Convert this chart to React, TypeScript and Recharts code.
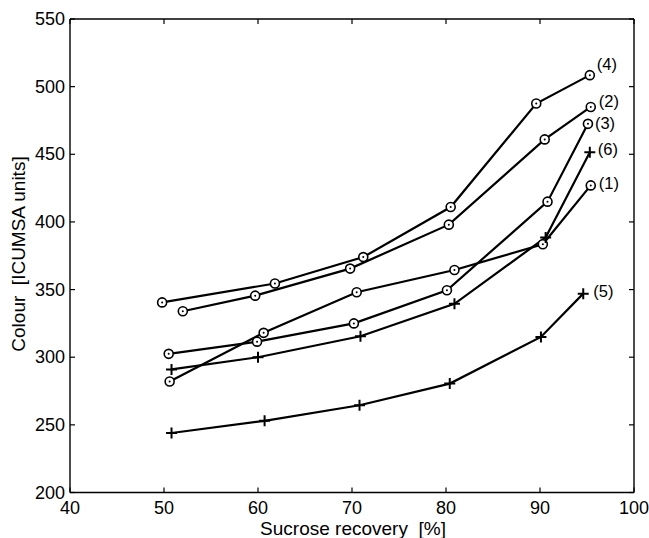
import { LabelList, Line, LineChart, XAxis, YAxis } from "recharts";

const X_TICKS = [40, 50, 60, 70, 80, 90, 100];
const Y_TICKS = [200, 250, 300, 350, 400, 450, 500, 550];

// sucrose recovery [%] / colour [ICUMSA units], one pair per curve
const S1_X = [50.6, 60.6, 70.5, 80.9, 90.3, 95.4];
const S1_Y = [282, 318, 348, 364.5, 383.5, 427];
const S2_X = [52.0, 59.7, 69.8, 80.3, 90.5, 95.4];
const S2_Y = [334, 345.5, 365.5, 398, 461, 485];
const S3_X = [50.5, 59.9, 70.2, 80.1, 90.8, 95.1];
const S3_Y = [302.5, 311.5, 325, 349.5, 415, 472.5];
const S4_X = [49.8, 61.8, 71.2, 80.5, 89.6, 95.3];
const S4_Y = [340.5, 354.5, 374, 411, 487.5, 508.5];
const S5_X = [50.8, 60.7, 70.8, 80.4, 90.1, 94.6];
const S5_Y = [244, 253, 264.5, 280.5, 315, 347];
const S6_X = [50.8, 60.0, 70.9, 80.9, 90.6, 95.3];
const S6_Y = [291, 300, 315.5, 339.5, 388.5, 451.5];

const TAGS = ["(1)", "(2)", "(3)", "(4)", "(5)", "(6)"];
const MARKERS = ["o", "o", "o", "o", "+", "+"];

// where each end tag sits relative to its last point
const TAG_OFFSET = [
  { dx: 8, dy: -2 },
  { dx: 8, dy: -6 },
  { dx: 7, dy: -1 },
  { dx: 7, dy: -11 },
  { dx: 10, dy: -3 },
  { dx: 8, dy: -3 },
];

const FONT = "'Liberation Sans', Arial, Helvetica, sans-serif";
const TICK_LEN = 5;

function makeSeries(xs: number[], ys: number[], tag: string) {
  return xs.map((x, i) => ({ x, y: ys[i], tag: i === xs.length - 1 ? tag : "" }));
}

const SERIES = [
  makeSeries(S1_X, S1_Y, TAGS[0]),
  makeSeries(S2_X, S2_Y, TAGS[1]),
  makeSeries(S3_X, S3_Y, TAGS[2]),
  makeSeries(S4_X, S4_Y, TAGS[3]),
  makeSeries(S5_X, S5_Y, TAGS[4]),
  makeSeries(S6_X, S6_Y, TAGS[5]),
];

function CircleMark(p: any) {
  const { cx, cy, index } = p;
  if (cx == null || cy == null) return <g key={index} />;
  return (
    <g key={`c${index}`}>
      <circle cx={cx} cy={cy} r={4.5} fill="#fff" stroke="#000" strokeWidth={1.6} />
      <circle cx={cx} cy={cy} r={1} fill="#000" />
    </g>
  );
}

function PlusMark(p: any) {
  const { cx, cy, index } = p;
  if (cx == null || cy == null) return <g key={index} />;
  return (
    <g key={`p${index}`} stroke="#000" strokeWidth={2}>
      <line x1={cx - 5.5} y1={cy} x2={cx + 5.5} y2={cy} />
      <line x1={cx} y1={cy - 5.5} x2={cx} y2={cy + 5.5} />
    </g>
  );
}

// tick renderers: labels outside, short tick marks inside the box
function BottomTick(p: any) {
  const { x, y, payload } = p;
  return (
    <g>
      <line x1={x} y1={y} x2={x} y2={y - TICK_LEN} stroke="#000" strokeWidth={1.2} />
      <text x={x} y={y + 9} dy="0.71em" textAnchor="middle" fontSize={18} fontFamily={FONT} fill="#000">
        {payload.value}
      </text>
    </g>
  );
}

function LeftTick(p: any) {
  const { x, y, payload } = p;
  return (
    <g>
      <line x1={x} y1={y} x2={x + TICK_LEN} y2={y} stroke="#000" strokeWidth={1.2} />
      <text x={x - 5} y={y} dominantBaseline="central" textAnchor="end" fontSize={18} fontFamily={FONT} fill="#000">
        {payload.value}
      </text>
    </g>
  );
}

function TopTick(p: any) {
  const { x, y } = p;
  return <line x1={x} y1={y} x2={x} y2={y + TICK_LEN} stroke="#000" strokeWidth={1.2} />;
}

function RightTick(p: any) {
  const { x, y } = p;
  return <line x1={x} y1={y} x2={x - TICK_LEN} y2={y} stroke="#000" strokeWidth={1.2} />;
}

function endTag(off: { dx: number; dy: number }) {
  return (props: any) => {
    const { x, y, value } = props;
    if (!value) return null;
    return (
      <text
        x={x + off.dx}
        y={y + off.dy}
        dominantBaseline="central"
        fontSize={16.5}
        fontFamily={FONT}
        fill="#000"
      >
        {value}
      </text>
    );
  };
}

export default function App() {
  const axisStroke = { stroke: "#000", strokeWidth: 1.4 };
  return (
    <div
      style={{
        position: "absolute",
        left: 0,
        top: 0,
        width: 649,
        height: 538,
        background: "#fff",
        fontFamily: FONT,
      }}
    >
      <LineChart width={649} height={538} margin={{ top: 18, right: 14, bottom: 0, left: 0 }}>
        <XAxis
          xAxisId="b"
          type="number"
          dataKey="x"
          domain={[40, 100]}
          ticks={X_TICKS}
          allowDataOverflow
          height={45.5}
          tickSize={0}
          tickMargin={0}
          tickLine={false}
          axisLine={axisStroke}
          tick={BottomTick}
          label={{
            content: () => (
              <text x={353} y={528} textAnchor="middle" dominantBaseline="central" fontSize={19} fontFamily={FONT} fill="#000">
                {"Sucrose recovery\u00a0\u00a0[%]"}
              </text>
            ),
          }}
        />
        <XAxis
          xAxisId="t"
          type="number"
          dataKey="x"
          domain={[40, 100]}
          ticks={X_TICKS}
          orientation="top"
          allowDataOverflow
          height={1}
          tickSize={0}
          tickMargin={0}
          tickLine={false}
          axisLine={axisStroke}
          tick={TopTick}
        />
        <YAxis
          yAxisId="l"
          type="number"
          domain={[200, 550]}
          ticks={Y_TICKS}
          allowDataOverflow
          width={70}
          tickSize={0}
          tickMargin={0}
          tickLine={false}
          axisLine={axisStroke}
          tick={LeftTick}
          label={{
            content: () => (
              <text
                x={18}
                y={254}
                transform="rotate(-90 18 254)"
                textAnchor="middle"
                dominantBaseline="central"
                fontSize={19}
                fontFamily={FONT}
                fill="#000"
              >
                {"Colour\u00a0\u00a0[ICUMSA units]"}
              </text>
            ),
          }}
        />
        <YAxis
          yAxisId="r"
          type="number"
          domain={[200, 550]}
          ticks={Y_TICKS}
          orientation="right"
          allowDataOverflow
          width={1}
          tickSize={0}
          tickMargin={0}
          tickLine={false}
          axisLine={axisStroke}
          tick={RightTick}
        />
        {SERIES.map((data, i) => (
          <Line
            key={TAGS[i]}
            xAxisId="b"
            yAxisId="l"
            data={data}
            dataKey="y"
            type="linear"
            stroke="#000"
            strokeWidth={2.2}
            dot={MARKERS[i] === "o" ? CircleMark : PlusMark}
            activeDot={false}
            isAnimationActive={false}
          >
            <LabelList dataKey="tag" content={endTag(TAG_OFFSET[i])} />
          </Line>
        ))}
      </LineChart>
    </div>
  );
}
